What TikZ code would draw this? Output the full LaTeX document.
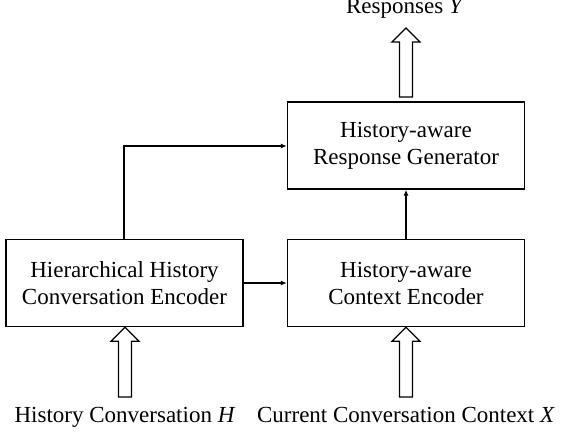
\documentclass[tikz,border=0pt]{standalone}
\usepackage{fontspec}
\setmainfont{Liberation Serif}
\usetikzlibrary{arrows.meta,calc}
\tikzset{
    block/.style={draw, line width=1.3pt, minimum width=237pt, minimum height=87pt, align=center, inner sep=0pt},
    link/.style={line width=1.3pt, -{Latex[length=6pt,width=5pt]}},
}
% hollow input/output arrow from #1 (tail) up to #2 (tip)
\newcommand{\fatarrow}[2]{%
    \draw[line width=1.2pt, line join=miter] let \p1=(#1), \p2=(#2) in
        (\x1-6.5pt,\y1) -- (\x1-6.5pt,\y2-14pt) -- (\x1-14pt,\y2-14pt) -- (\x1,\y2)
        -- (\x1+14pt,\y2-14pt) -- (\x1+6.5pt,\y2-14pt) -- (\x1+6.5pt,\y1) -- cycle;}
\begin{document}
\begin{tikzpicture}[x=1pt, y=-1pt, font=\fontsize{23}{27}\selectfont]
    \useasboundingbox (0, 0) rectangle (567, 437);
    \node[block] (gen) at (406, 145.5) {History-aware\\Response Generator};
    \node[block] (hier) at (124.5, 283) {Hierarchical History\\Conversation Encoder};
    \node[block] (ctx) at (406, 283) {History-aware\\Context Encoder};
    \node[anchor=base] (resp) at (405, 13) {Responses \textit{Y}};
    \node[anchor=base] (hist) at (125, 422) {History Conversation \textit{H}};
    \node[anchor=base] (cur) at (406, 422) {Current Conversation Context \textit{X}};
    \coordinate (hin) at (125, 397);
    \coordinate (cin) at (406, 397);
    \coordinate (yout) at (406, 28);
    \coordinate (gtail) at (406, 97);
    \draw[link] (hier) -- (ctx);
    \draw[link] (ctx.north) -- (gen.south);
    \draw[link] (hier.north -| 124, 0) |- (gen.west |- 0, 146);
    \fatarrow{hin}{hier.south}
    \fatarrow{cin}{ctx.south}
    \fatarrow{gtail}{yout}
\end{tikzpicture}
\end{document}
